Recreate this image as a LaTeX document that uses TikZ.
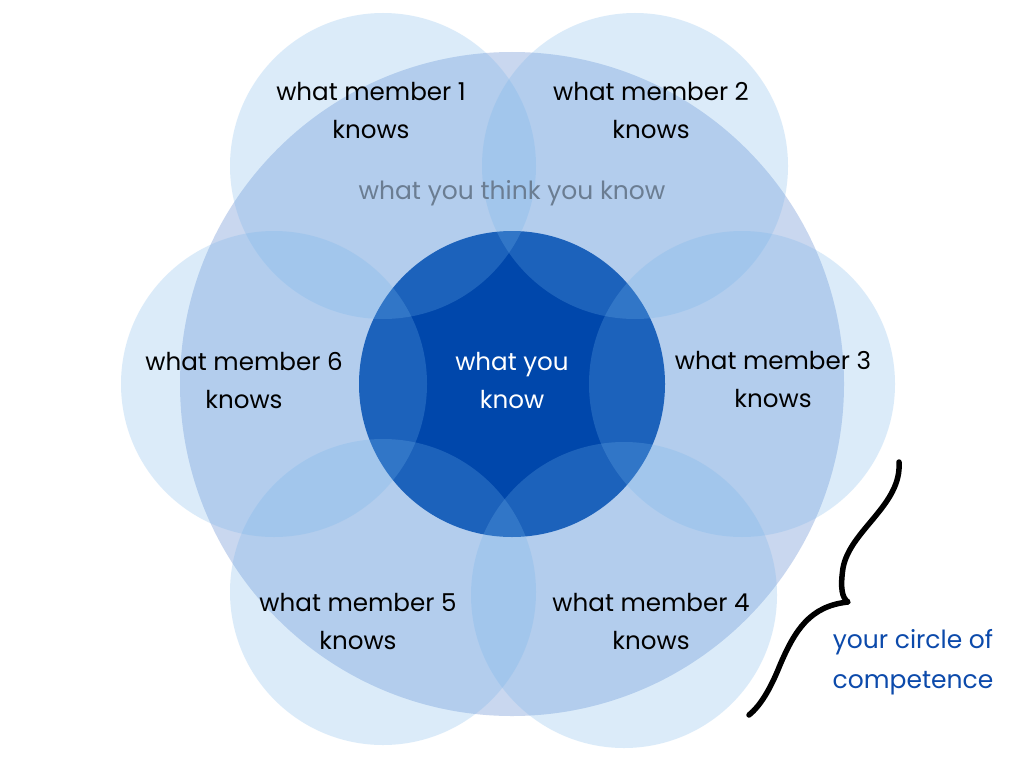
\documentclass[tikz,border=0pt]{standalone}
\usepackage{fontspec}
\setmainfont{Poppins}
\begin{document}
\begin{tikzpicture}[x=1pt,y=-1pt,
  bigc/.style={circle,fill=bigblue,inner sep=0pt,minimum size=664pt},
  corec/.style={circle,fill=coreblue,inner sep=0pt,minimum size=306pt},
  memc/.style={circle,fill=memblue,fill opacity=0.25,inner sep=0pt,minimum size=306pt},
  lbl/.style={font=\fontsize{24.6}{38}\selectfont,align=center,text=black},
  brace/.style={line width=5.5pt,line cap=round,line join=round,draw=black}]
\definecolor{bigblue}{RGB}{201,215,239}
\definecolor{coreblue}{RGB}{0,71,171}
\definecolor{memblue}{RGB}{115,179,235}
\definecolor{thinkgray}{RGB}{107,125,146}
\definecolor{compblue}{RGB}{12,74,171}
\useasboundingbox (0,0) rectangle (1024,768);
\fill[white] (0,0) rectangle (1024,768);
\node[bigc] (big) at (512,384) {};
\node[corec] (core) at (512,384) {};
\node[memc] (m1) at (383,166) {};
\node[memc] (m2) at (635,166) {};
\node[memc] (m3) at (742,384) {};
\node[memc] (m4) at (624,595) {};
\node[memc] (m5) at (383,592) {};
\node[memc] (m6) at (274,384) {};
\node[lbl] (t1) at (371,111) {what member 1\\knows};
\node[lbl] (t2) at (651,111) {what member 2\\knows};
\node[lbl] (t3) at (773,380) {what member 3\\knows};
\node[lbl] (t4) at (651,621) {what member 4\\knows};
\node[lbl] (t5) at (358,621) {what member 5\\knows};
\node[lbl] (t6) at (244,381) {what member 6\\knows};
\node[lbl,text=white] (tc) at (512,381) {what you\\know};
\node[lbl,text=thinkgray,font=\fontsize{25}{38}\selectfont] (tt) at (512,193) {what you think you know};
\node[lbl,text=compblue,font=\fontsize{25}{40}\selectfont] (tcomp) at (913,662) {your circle of\\competence};
\coordinate (btop) at (899,462);
\coordinate (btip) at (848,602);
\coordinate (bbot) at (749,715);
\draw[brace] (btop) .. controls (902,505) and (850,530) .. (843,568)
  .. controls (840,588) and (842,598) .. (btip)
  .. controls (810,606) and (795,630) .. (780,665)
  .. controls (770,690) and (760,706) .. (bbot);
\end{tikzpicture}
\end{document}
